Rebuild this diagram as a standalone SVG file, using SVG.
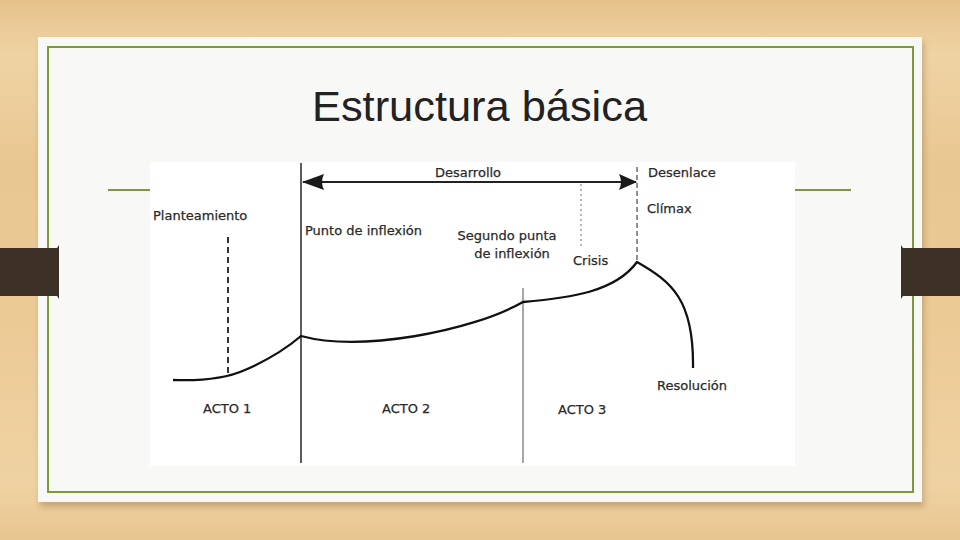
<svg xmlns="http://www.w3.org/2000/svg" width="960" height="540" viewBox="0 0 960 540">
  <defs>
    <linearGradient id="wood" x1="0" y1="0" x2="0" y2="1">
      <stop offset="0" stop-color="#e6c28b"/>
      <stop offset="0.1" stop-color="#efd3a4"/>
      <stop offset="0.3" stop-color="#e9c792"/>
      <stop offset="0.6" stop-color="#ecca96"/>
      <stop offset="0.9" stop-color="#efd2a2"/>
      <stop offset="1" stop-color="#e8c58f"/>
    </linearGradient>
    <filter id="shadow" x="-5%" y="-5%" width="110%" height="115%">
      <feGaussianBlur stdDeviation="3"/>
    </filter>
    <marker id="arrowL" viewBox="0 0 22 16" refX="1" refY="8" markerWidth="22" markerHeight="16" markerUnits="userSpaceOnUse" orient="auto">
      <path d="M22,0 L0,8 L22,16 Q18,8 22,0 Z" fill="#1a1a1a"/>
    </marker>
    <marker id="arrowR" viewBox="0 0 18 16" refX="17" refY="8" markerWidth="18" markerHeight="16" markerUnits="userSpaceOnUse" orient="auto">
      <path d="M0,0 L18,8 L0,16 Q4,8 0,0 Z" fill="#1a1a1a"/>
    </marker>
    <style>
      .lbl { font-family: "DejaVu Sans", "Liberation Sans", sans-serif; font-size: 13px; fill: #2a2a2a; stroke: #2a2a2a; stroke-width: 0.25; }
      .tab { fill: #3b2f26; }
      .green { stroke: #7e983c; stroke-width: 2; fill: none; }
    </style>
  </defs>

  <rect x="0" y="0" width="960" height="540" fill="url(#wood)"/>

  <g id="slide">
    <rect x="40" y="42" width="884" height="465" fill="#8a6a40" opacity="0.4" filter="url(#shadow)"/>
    <rect x="38" y="37" width="884" height="465" fill="#f8f8f6"/>
    <rect x="48" y="47" width="865" height="445" class="green"/>
    <line x1="108" y1="190" x2="150" y2="190" class="green"/>
    <line x1="795" y1="190" x2="851" y2="190" class="green"/>
  </g>

  <g id="tabs">
    <path class="tab" d="M0,248 L57,248 L59,245 L59,299 L57,296 L0,296 Z"/>
    <path class="tab" d="M960,248 L903,248 L901,245 L901,299 L903,296 L960,296 Z"/>
  </g>

  <g id="title">
    <text x="312" y="121" font-family="Liberation Sans, Arial, sans-serif" font-size="43" fill="#222222" textLength="335" lengthAdjust="spacingAndGlyphs">Estructura básica</text>
  </g>

  <g id="picture">
    <rect x="150" y="162" width="645" height="304" fill="#ffffff"/>
  </g>

  <g id="connectors">
    <line x1="301" y1="163" x2="301" y2="463" stroke="#333" stroke-width="1.6"/>
    <line x1="523" y1="288" x2="523" y2="463" stroke="#777" stroke-width="1.3"/>
    <line x1="303" y1="182" x2="636" y2="182" stroke="#222" stroke-width="2.2" marker-start="url(#arrowL)" marker-end="url(#arrowR)"/>
    <line x1="637" y1="167" x2="637" y2="262" stroke="#555" stroke-width="1.3" stroke-dasharray="5 3"/>
    <line x1="228" y1="237" x2="228" y2="373" stroke="#333" stroke-width="2" stroke-dasharray="6 4"/>
    <line x1="581" y1="184" x2="581" y2="248" stroke="#888" stroke-width="1.2" stroke-dasharray="2 3"/>
    <path d="M173,380 C200,381 225,379 245,370 C268,360 287,348 301,336 C360,352 470,332 523,302 C570,298 615,292 637,262 C672,282 694,300 693,368" fill="none" stroke="#111" stroke-width="2.3" stroke-linejoin="round"/>
  </g>

  <g id="label-desarrollo"><text class="lbl" x="435" y="177">Desarrollo</text></g>
  <g id="label-desenlace"><text class="lbl" x="648" y="177">Desenlace</text></g>
  <g id="label-planteamiento"><text class="lbl" x="153" y="220">Planteamiento</text></g>
  <g id="label-climax"><text class="lbl" x="647" y="213">Clímax</text></g>
  <g id="label-punto"><text class="lbl" x="305" y="235">Punto de inflexión</text></g>
  <g id="label-segundo">
    <text class="lbl" x="507" y="240" text-anchor="middle">Segundo punta</text>
    <text class="lbl" x="512" y="258" text-anchor="middle">de inflexión</text>
  </g>
  <g id="label-crisis"><text class="lbl" x="573" y="265">Crisis</text></g>
  <g id="label-resolucion"><text class="lbl" x="657" y="390">Resolución</text></g>
  <g id="label-acto1"><text class="lbl" x="203" y="413">ACTO 1</text></g>
  <g id="label-acto2"><text class="lbl" x="382" y="413">ACTO 2</text></g>
  <g id="label-acto3"><text class="lbl" x="558" y="414">ACTO 3</text></g>
</svg>
